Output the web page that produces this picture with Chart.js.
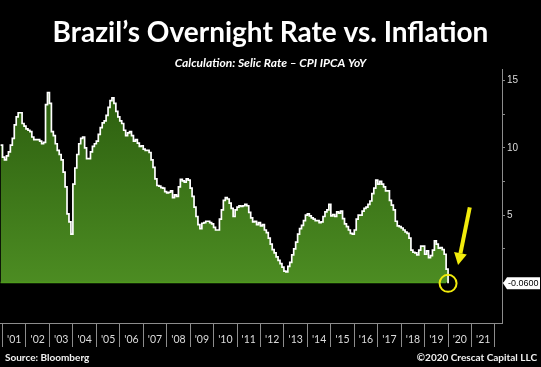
<!DOCTYPE html>
<html><head><meta charset="utf-8">
<script src="https://cdn.jsdelivr.net/npm/chart.js@4.4.1/dist/chart.umd.min.js"></script>
<style>
html,body{margin:0;padding:0;background:#000;}
#wrap{position:relative;width:541px;height:367px;background:#000;overflow:hidden}
canvas{display:block}
.foot{position:absolute;top:351px;font:bold 10px Lato, sans-serif;color:#f2f2f2;white-space:nowrap}
</style></head><body>
<div id="wrap"><canvas id="c" width="541" height="367"></canvas>
<div class="foot" style="left:5px">Source: Bloomberg</div>
<div class="foot" style="right:4px">©2020 Crescat Capital LLC</div>
</div>
<script>
// ---- data ----
const titleText = 'Brazil\u2019s Overnight Rate vs. Inflation';
const subtitleText = 'Calculation: Selic Rate \u2013 CPI IPCA YoY';
// month index of first value (0 = Jan 2001), i.e. Dec 2000
const startMonth = -1;
// Selic rate minus CPI IPCA YoY, monthly, Dec 2000 .. Jan 2020
const realRate = [
  10.2,
  9.3, 9.1, 9.4, 9.7, 10.2, 10.7, 11.7, 12.3, 12.6, 12.6, 11.8, 11.6,
  11.4, 11.3, 11.2, 10.8, 10.6, 10.6, 10.6, 10.5, 10.3, 10.4, 13.2, 14.1,
  13.3, 11.2, 10.9, 10.3, 9.8, 9.5, 9.1, 8.2, 7.1, 5.1, 4.5, 3.6,
  7.3, 8.5, 9.5, 10.3, 10.7, 10.8, 10.0, 9.2, 9.2, 9.7, 10.1, 10.3,
  10.5, 11.0, 11.5, 11.85, 12.0, 12.4, 13.0, 13.5, 13.7, 13.3, 12.7, 12.3,
  12.0, 11.8, 11.3, 10.9, 11.1, 11.2, 10.9, 10.5, 10.6, 10.35, 10.1, 10.15,
  9.9, 9.8, 9.8, 9.65, 9.1, 8.55, 7.7, 7.2, 7.15, 7.05, 7.0, 6.75,
  6.65, 6.7, 6.8, 6.3, 6.5, 6.4, 7.1, 7.65, 7.55, 7.45, 7.7, 7.6,
  7.0, 6.4, 5.6, 4.9, 4.3, 4.0, 4.4, 4.45, 4.55, 4.55, 4.45, 4.35,
  4.1, 3.9, 3.9, 4.7, 5.4, 6.1, 6.3, 6.2, 5.9, 5.5, 4.9, 5.4,
  5.6, 5.7, 5.65, 5.7, 5.8, 5.7, 5.2, 4.8, 4.5, 4.55, 4.3, 4.45,
  4.2, 4.3, 3.9, 3.7, 3.3, 2.85, 2.45, 2.2, 1.9, 1.65, 1.4, 1.15,
  0.85, 0.8, 1.2, 1.5, 2.05, 2.5, 3.0, 3.6, 4.0, 4.25, 4.6, 5.0,
  5.1, 4.95, 4.8, 4.7, 4.6, 4.6, 4.45, 4.5, 4.9, 5.25, 5.4, 5.8,
  4.95, 5.05, 4.9, 5.25, 5.15, 5.3, 4.75, 4.35, 4.15, 3.9, 3.65, 3.6,
  3.9, 4.7, 5.0, 5.0, 5.3, 5.5, 5.6, 5.8, 6.05, 6.6, 7.0, 7.6,
  7.3, 7.5, 7.3, 7.1, 6.8, 6.8, 6.1, 5.75, 5.4, 4.55, 4.2, 4.15,
  4.05, 3.9, 3.75, 3.65, 3.3, 2.4, 2.25, 2.2, 2.05, 2.4, 2.7, 2.7,
  2.1, 2.35, 1.85, 2.0, 2.4, 3.1, 2.85, 2.55, 2.6, 2.45, 2.1, 1.0,
  -0.06
];
const yearLabels = ["'01","'02","'03","'04","'05","'06","'07","'08","'09","'10","'11",
                    "'12","'13","'14","'15","'16","'17","'18","'19","'20","'21"];
const yTicks = [0, 2.5, 5, 7.5, 10, 12.5, 15];

// ---- chart ----
const points = realRate.map((v, i) => ({x: startMonth + i, y: v}));

const deco = {
  id: 'deco',
  afterDatasetsDraw(chart) {
    const {ctx, scales: {x, y}} = chart;
    const n = realRate.length;
    const lx = x.getPixelForValue(startMonth + n - 1);
    const ly = y.getPixelForValue(realRate[n - 1]);
    const y0 = y.getPixelForValue(0);
    ctx.save();
    ctx.strokeStyle = '#4e9a1c'; ctx.lineWidth = 1.5;
    ctx.beginPath(); ctx.moveTo(x.getPixelForValue(startMonth), y0); ctx.lineTo(lx - 2, y0); ctx.stroke();
    const yellow = '#f2ec0c';
    ctx.strokeStyle = yellow; ctx.fillStyle = yellow; ctx.lineWidth = 2;
    ctx.beginPath(); ctx.arc(lx, ly, 8.5, 0, Math.PI * 2); ctx.stroke();
    const sx = lx + 21.7, sy = ly - 76, tx = lx + 10, ty = ly - 18.3;
    const ang = Math.atan2(ty - sy, tx - sx);
    const hl = 12, hw = 6.5;
    const bx = tx - hl * Math.cos(ang), by = ty - hl * Math.sin(ang);
    ctx.lineWidth = 4;
    ctx.beginPath(); ctx.moveTo(sx, sy); ctx.lineTo(bx, by); ctx.stroke();
    ctx.beginPath(); ctx.moveTo(tx, ty);
    ctx.lineTo(bx + hw * Math.sin(ang), by - hw * Math.cos(ang));
    ctx.lineTo(bx - hw * Math.sin(ang), by + hw * Math.cos(ang));
    ctx.closePath(); ctx.fill();
    ctx.restore();
  },
  afterDraw(chart) {
    const {ctx, scales: {y}, chartArea} = chart;
    const v = realRate[realRate.length - 1];
    const py = y.getPixelForValue(v);
    const x0 = chartArea.right + 1;
    ctx.save();
    ctx.fillStyle = '#ffffff';
    ctx.beginPath();
    ctx.moveTo(x0, py);
    ctx.lineTo(x0 + 4, py - 6);
    ctx.lineTo(540, py - 6);
    ctx.lineTo(540, py + 6);
    ctx.lineTo(x0 + 4, py + 6);
    ctx.closePath(); ctx.fill();
    ctx.fillStyle = '#000';
    ctx.font = '9px "Liberation Sans", Arial, sans-serif';
    ctx.textBaseline = 'middle'; ctx.textAlign = 'left';
    ctx.fillText(v.toFixed(4), x0 + 5, py + 0.5);
    ctx.restore();
  }
};

new Chart(document.getElementById('c'), {
  type: 'line',
  data: {
    datasets: [{
      data: points,
      borderColor: '#ffffff',
      borderWidth: 1.7,
      stepped: true,
      pointRadius: 0,
      fill: 'origin',
      backgroundColor(context) {
        const {chart} = context;
        const {ctx, chartArea, scales} = chart;
        if (!chartArea || !scales.y) return '#3f7a1c';
        const g = ctx.createLinearGradient(0, chartArea.top + 20, 0, scales.y.getPixelForValue(0));
        g.addColorStop(0, '#2c5e0f');
        g.addColorStop(1, '#4c8c22');
        return g;
      }
    }]
  },
  options: {
    responsive: false,
    animation: false,
    devicePixelRatio: 1,
    layout: {padding: {top: 0, left: 0, right: 0, bottom: 20}},
    plugins: {
      legend: {display: false},
      tooltip: {enabled: false},
      title: {
        display: true, text: titleText, color: '#ffffff',
        font: {family: 'Lato', weight: 'bold', size: 28, lineHeight: 1.2},
        padding: {top: 16, bottom: 8}
      },
      subtitle: {
        display: true, text: subtitleText, color: '#ffffff',
        font: {family: 'Lato', weight: 'bold', style: 'italic', size: 12, lineHeight: 1},
        padding: {top: 0, bottom: 0}
      }
    },
    scales: {
      x: {
        type: 'linear', min: -1.3, max: 255.6,
        afterBuildTicks(s) {
          const t = [];
          for (let m = 0; m <= 252; m += 6) t.push({value: m});
          s.ticks = t;
        },
        afterFit(s) { s.height = 24; },
        ticks: {
          autoSkip: false, maxRotation: 0, minRotation: 0,
          padding: -14,
          color: '#dcdcdc',
          font: {family: 'Lato', size: 10.5},
          callback(v) { return (v % 12 === 6) ? yearLabels[(v - 6) / 12] : ''; }
        },
        grid: {
          drawOnChartArea: false, drawTicks: true, tickLength: 24,
          color(ctx) { return (ctx.tick && ctx.tick.value % 12 === 0) ? '#8c8c8c' : 'rgba(0,0,0,0)'; }
        },
        border: {display: true, color: '#8c8c8c', width: 1}
      },
      y: {
        position: 'right', min: -3.0, max: 15.8,
        afterBuildTicks(s) { s.ticks = yTicks.map(v => ({value: v})); },
        afterFit(s) { s.width = 39; },
        ticks: {
          padding: 2, color: '#dcdcdc',
          font: {family: '"Liberation Sans", Arial, sans-serif', size: 10},
          callback(v) { return (v % 5 === 0 && v !== 0) ? String(v) : ''; }
        },
        grid: {drawOnChartArea: false, drawTicks: true, tickLength: 3, color: '#8c8c8c'},
        border: {display: true, color: '#8c8c8c', width: 1}
      }
    }
  },
  plugins: [deco]
});
</script>
</body></html>
